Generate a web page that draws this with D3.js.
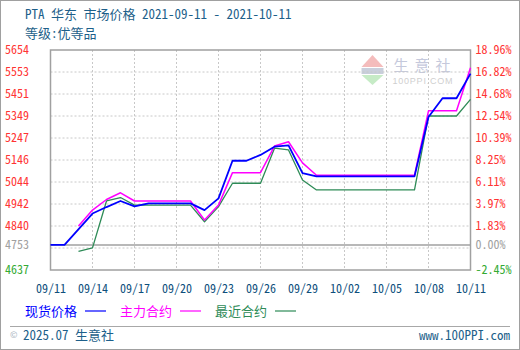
<!DOCTYPE html>
<html>
<head>
<meta charset="utf-8">
<script src="https://cdn.jsdelivr.net/npm/d3@7"></script>
<style>
  body { margin: 0; background: #fff; }
  svg text { font-family: 'Noto Sans Mono CJK SC', 'Noto Sans CJK SC', sans-serif; }
</style>
</head>
<body>
<div id="chart"></div>
<script>

// x axis dates (every 3 days)
var xTickLabels = ["2021-09-11", "2021-09-14", "2021-09-17", "2021-09-20", "2021-09-23", "2021-09-26",
    "2021-09-29", "2021-10-02", "2021-10-05", "2021-10-08", "2021-10-11"];

// left / right axis
var yTicks = [5654, 5553, 5451, 5349, 5247, 5146, 5044, 4942, 4840, 4753, 4637];
var pctLabels = ["18.96%", "16.82%", "14.68%", "12.54%", "10.39%", "8.25%", "6.11%", "3.97%", "1.83%", "0.00%", "-2.45%"];
var baseValue = 4753;

// 现货价格
var spotDates = ["2021-09-11", "2021-09-12", "2021-09-14", "2021-09-15", "2021-09-16", "2021-09-17", "2021-09-18",
    "2021-09-21", "2021-09-22", "2021-09-23", "2021-09-24", "2021-09-25", "2021-09-26", "2021-09-27", "2021-09-28",
    "2021-09-29", "2021-09-30", "2021-10-07", "2021-10-08", "2021-10-09", "2021-10-10", "2021-10-11"];
var spotValues = [4753, 4753, 4898, 4928, 4956, 4931, 4945, 4945, 4914, 4968, 5142, 5142, 5169, 5207, 5213,
    5085, 5070, 5070, 5344, 5431, 5431, 5545];

// 主力合约
var mainDates = ["2021-09-13", "2021-09-14", "2021-09-15", "2021-09-16", "2021-09-17", "2021-09-21", "2021-09-22",
    "2021-09-23", "2021-09-24", "2021-09-26", "2021-09-27", "2021-09-28", "2021-09-29", "2021-09-30", "2021-10-07",
    "2021-10-08", "2021-10-10", "2021-10-11"];
var mainValues = [4840, 4914, 4963, 4994, 4956, 4956, 4868, 4937, 5087, 5087, 5210, 5230, 5132, 5075, 5075,
    5373, 5373, 5572];

// 最近合约
var nearDates = ["2021-09-13", "2021-09-14", "2021-09-15", "2021-09-16", "2021-09-17", "2021-09-21", "2021-09-22",
    "2021-09-23", "2021-09-24", "2021-09-26", "2021-09-27", "2021-09-28", "2021-09-29", "2021-09-30", "2021-10-07",
    "2021-10-08", "2021-10-10", "2021-10-11"];
var nearValues = [4723, 4739, 4956, 4972, 4937, 4937, 4860, 4930, 5038, 5038, 5200, 5192, 5053, 5007, 5007,
    5349, 5349, 5426];

var legendNames = ["现货价格", "主力合约", "最近合约"];
var colors = ["#0000ff", "#ff00ff", "#2e8b57"];

var parse = d3.timeParse("%Y-%m-%d");

var W = 520, H = 350;
var margin = { top: 50, right: 49.5, bottom: 80, left: 50.5 },
    width = W - margin.left - margin.right,
    height = H - margin.top - margin.bottom;

var svg = d3.select("#chart").append("svg")
    .attr("width", W)
    .attr("height", H);

// outer frame
svg.append("rect")
    .attr("x", 0.5).attr("y", 0.5)
    .attr("width", W - 1).attr("height", H - 1)
    .attr("fill", "#fff").attr("stroke", "#a0a0a0");

// title
svg.append("text").attr("x", 25).attr("y", 19)
    .attr("font-size", 13).attr("fill", "#1d5f8a")
    .attr("xml:space", "preserve")
    .text("PTA 华东 市场价格 2021-09-11 - 2021-10-11");
svg.append("text").attr("x", 25).attr("y", 38)
    .attr("font-size", 13).attr("fill", "#1d5f8a")
    .text("等级:优等品");

var g = svg.append("g")
    .attr("transform", "translate(" + margin.left + "," + margin.top + ")");

var x = d3.scaleTime()
    .domain([parse(xTickLabels[0]), parse(xTickLabels[xTickLabels.length - 1])])
    .range([0, width]);

var y = d3.scaleLinear()
    .domain([yTicks[yTicks.length - 1], yTicks[0]])
    .range([height, 0]);

// watermark
var wm = g.append("g").attr("transform", "translate(311,5)");
wm.append("path").attr("d", "M0,12 L11,0 L22,12 Z").attr("fill", "#f4bcbc");
wm.append("rect").attr("x", 0).attr("y", 13).attr("width", 22).attr("height", 6).attr("fill", "#c9cfdc");
wm.append("path").attr("d", "M0,20 L11,30 L22,20 Z").attr("fill", "#c6ebc6");
wm.append("text").attr("x", 32).attr("y", 16).attr("font-size", 15)
    .attr("letter-spacing", 6).attr("fill", "#c5c9dc").text("生意社");
wm.append("text").attr("x", 31).attr("y", 29).attr("font-size", 9)
    .style("font-family", "'Liberation Sans', sans-serif")
    .attr("fill", "#cfcfcf").attr("textLength", 60).text("100PPI.COM");

// horizontal gridlines (even split of the value range)
var gridY = d3.range(1, 10).map(function (i) { return y.domain()[0] + i * (y.domain()[1] - y.domain()[0]) / 10; });
g.append("g")
    .selectAll("line")
    .data(gridY)
    .enter().append("line")
    .attr("x1", 0).attr("x2", width)
    .attr("y1", function (d) { return y(d); })
    .attr("y2", function (d) { return y(d); })
    .attr("stroke", "#c8c8c8")
    .attr("stroke-dasharray", "2,2");

// vertical gridlines
g.append("g")
    .selectAll("line")
    .data(xTickLabels.slice(1, -1))
    .enter().append("line")
    .attr("x1", function (d) { return x(parse(d)); })
    .attr("x2", function (d) { return x(parse(d)); })
    .attr("y1", 0).attr("y2", height)
    .attr("stroke", "#c8c8c8")
    .attr("stroke-dasharray", "2,2");

// base line
g.append("line")
    .attr("x1", 0).attr("x2", width)
    .attr("y1", y(baseValue)).attr("y2", y(baseValue))
    .attr("stroke", "#a0a0a0").attr("stroke-width", 1.5);

// plot frame
g.append("rect")
    .attr("width", width).attr("height", height)
    .attr("fill", "none").attr("stroke", "#a0a0a0").attr("stroke-width", 1.5);

// x axis
var xAxis = g.append("g")
    .attr("transform", "translate(0," + height + ")")
    .call(d3.axisBottom(x)
        .tickValues(xTickLabels.map(parse))
        .tickFormat(d3.timeFormat("%m/%d"))
        .tickSize(0)
        .tickPadding(14));
xAxis.select(".domain").remove();
xAxis.selectAll("text")
    .attr("font-size", 12)
    .attr("fill", "#0e4f7c")
    .style("font-family", "'Noto Sans Mono CJK SC', 'Noto Sans CJK SC', sans-serif");

function tickColor(d) {
    if (d > baseValue) return "#ff3333";
    if (d == baseValue) return "#a0a0a0";
    return "#33aa33";
}

// left axis
var yLeft = g.append("g")
    .call(d3.axisLeft(y).tickValues(yTicks).tickFormat(d3.format("d")).tickSize(0).tickPadding(22));
yLeft.select(".domain").remove();
yLeft.selectAll("text")
    .attr("font-size", 12)
    .attr("text-anchor", "start")
    .attr("dy", "0.28em")
    .attr("fill", tickColor)
    .style("font-family", "'Noto Sans Mono CJK SC', 'Noto Sans CJK SC', sans-serif")
    .attr("x", -45.5);

// right axis
var yRight = g.append("g")
    .attr("transform", "translate(" + width + ",0)")
    .call(d3.axisRight(y).tickValues(yTicks)
        .tickFormat(function (d, i) { return pctLabels[i]; })
        .tickSize(0).tickPadding(5));
yRight.select(".domain").remove();
yRight.selectAll("text")
    .attr("font-size", 12)
    .attr("dy", "0.28em")
    .attr("fill", tickColor)
    .style("font-family", "'Noto Sans Mono CJK SC', 'Noto Sans CJK SC', sans-serif");

// series
var series = [
    { dates: nearDates, values: nearValues, color: colors[2], w: 1.3 },
    { dates: mainDates, values: mainValues, color: colors[1], w: 1.5 },
    { dates: spotDates, values: spotValues, color: colors[0], w: 1.8 }
];

var line = d3.line()
    .x(function (d) { return x(d[0]); })
    .y(function (d) { return y(d[1]); });

series.forEach(function (s) {
    var pts = s.dates.map(function (d, i) { return [parse(d), s.values[i]]; });
    g.append("path")
        .datum(pts)
        .attr("fill", "none")
        .attr("stroke", s.color)
        .attr("stroke-width", s.w)
        .attr("stroke-linejoin", "round")
        .attr("d", line);
});

// legend
var legend = svg.append("g");
legendNames.forEach(function (name, i) {
    var lx = 25 + i * 95;
    legend.append("text").attr("x", lx).attr("y", 316)
        .attr("font-size", 13).attr("fill", colors[i]).text(name);
    legend.append("line")
        .attr("x1", lx + 60).attr("x2", lx + 81)
        .attr("y1", 311).attr("y2", 311)
        .attr("stroke", colors[i]).attr("stroke-width", 1.2);
});

// footer
svg.append("line")
    .attr("x1", 10).attr("x2", 510)
    .attr("y1", 326.5).attr("y2", 326.5)
    .attr("stroke", "#a8a8a8");
svg.append("text").attr("x", 10).attr("y", 338)
    .attr("font-size", 9).attr("fill", "#a8b4c0").text("©");
svg.append("text").attr("x", 23).attr("y", 340)
    .attr("font-size", 13).attr("fill", "#1d5f8a").text("2025.07 生意社");
svg.append("text").attr("x", 510).attr("y", 340)
    .attr("font-size", 13).attr("fill", "#1d5f8a")
    .attr("text-anchor", "end").text("www.100PPI.com");

</script>
</body>
</html>
